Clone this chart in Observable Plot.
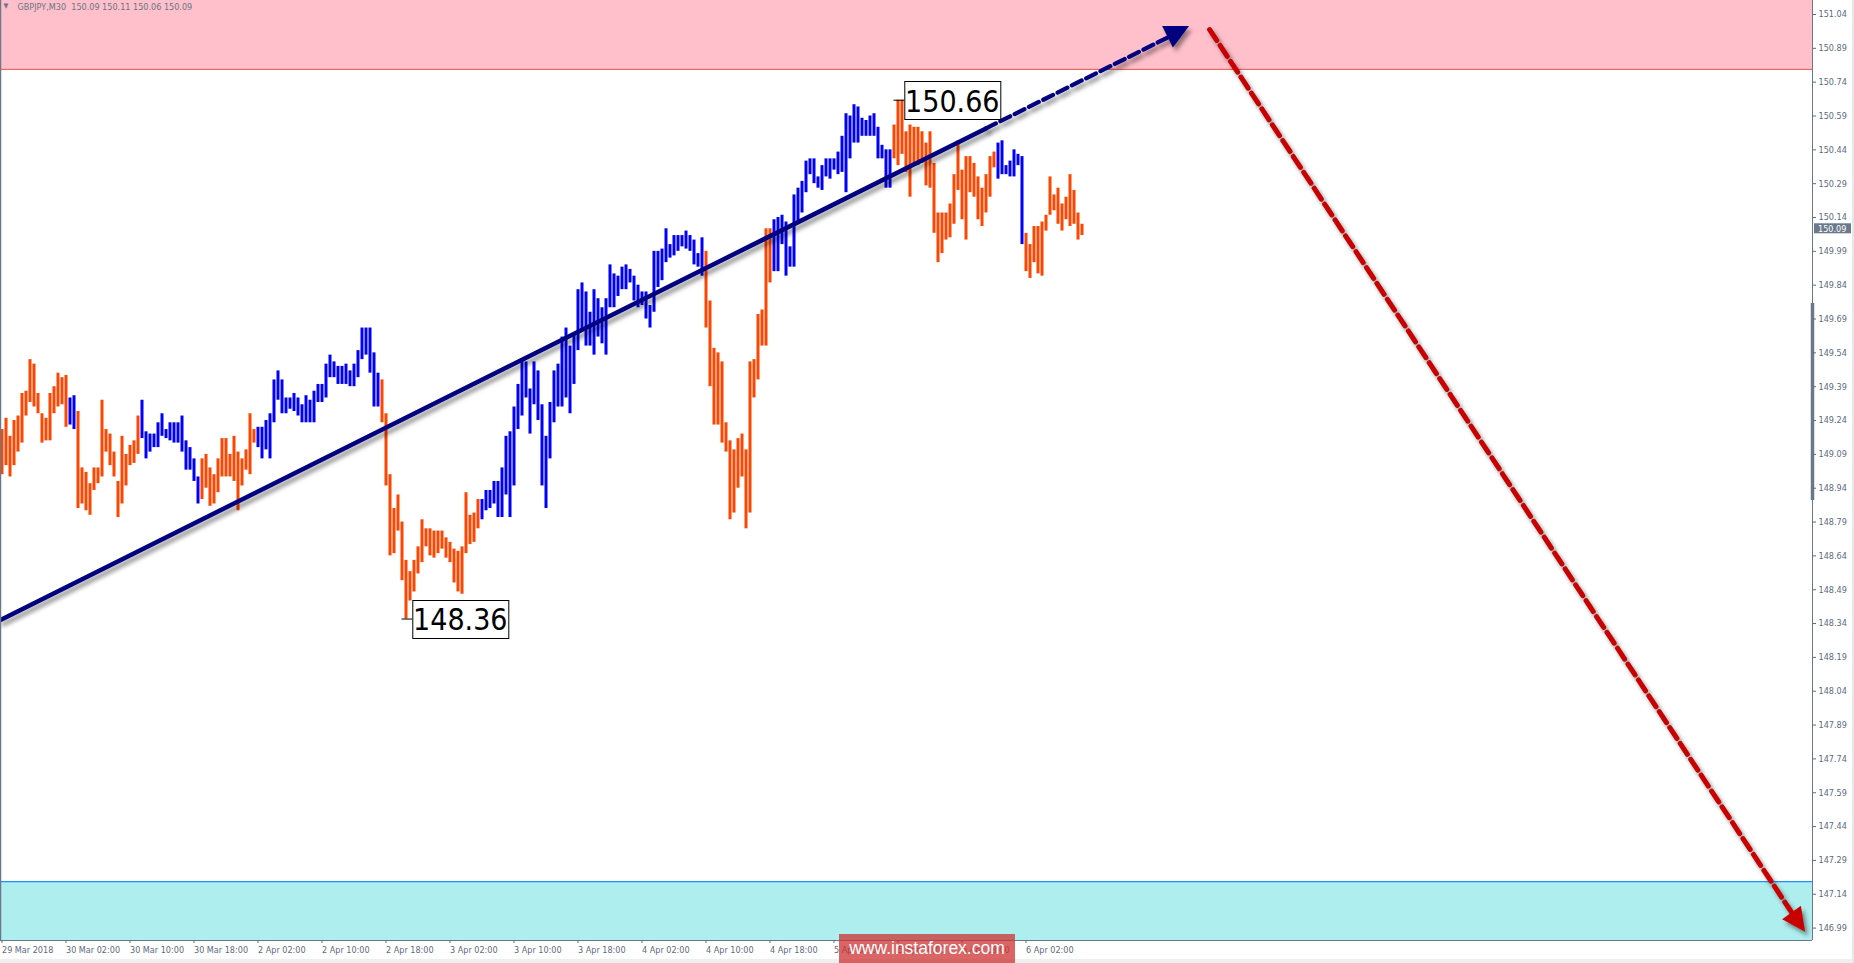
<!DOCTYPE html>
<html><head><meta charset="utf-8">
<script src="https://cdn.jsdelivr.net/npm/d3@7"></script>
<script src="https://cdn.jsdelivr.net/npm/@observablehq/plot@0.6"></script>
<style>
html,body{margin:0;padding:0;background:#fff;overflow:hidden}
#chart{position:relative;width:1854px;height:963px}
#wm{position:absolute;left:839px;top:934px;width:176px;height:29px;background:rgba(205,50,50,0.75);color:#fff;
font:17.5px "Liberation Sans",Arial,sans-serif;line-height:29px;text-align:center;z-index:2}
#bstrip{position:absolute;left:0;top:959px;width:1854px;height:4px;background:#efefef;z-index:1}
#rstrip{position:absolute;left:1852px;top:0;width:2px;height:963px;background:#e8e8e8;z-index:1}
</style></head><body><div id="chart"><div id="bstrip"></div><div id="rstrip"></div><div id="wm">www.instaforex.com</div></div>
<script>
// ---- data ----
const symbol = "GBPJPY,M30";
const headerOHLC = [150.09, 150.11, 150.06, 150.09];
const lastPrice = 150.09;

const highs = [
149.20,149.25,149.17,149.24,149.26,149.36,149.37,149.51,149.49,149.36,
149.27,149.25,149.36,149.39,149.45,149.43,149.44,149.34,149.35,149.28,
149.03,149.01,148.96,149.03,149.03,149.33,149.20,149.18,149.10,148.97,
149.17,149.09,149.13,149.15,149.26,149.33,149.19,149.18,149.18,149.23,
149.27,149.20,149.23,149.23,149.23,149.26,149.15,149.12,149.07,148.99,
149.07,149.09,149.03,149.00,149.07,149.16,149.16,149.09,149.17,149.10,
149.07,149.11,149.27,149.20,149.21,149.21,149.24,149.27,149.42,149.46,
149.42,149.34,149.34,149.36,149.34,149.31,149.35,149.33,149.37,149.40,
149.40,149.49,149.53,149.50,149.48,149.48,149.49,149.46,149.49,149.55,
149.65,149.65,149.65,149.54,149.45,149.42,149.27,149.00,148.85,148.91,
148.79,148.62,148.57,148.62,148.68,148.80,148.76,148.76,148.75,148.75,
148.75,148.72,148.70,148.67,148.66,148.68,148.92,148.82,148.83,148.89,
148.89,148.93,148.93,148.97,148.97,149.03,149.17,149.19,149.30,149.40,
149.51,149.50,149.38,149.50,149.46,149.31,149.17,149.32,149.46,149.49,
149.61,149.65,149.57,149.62,149.82,149.85,149.81,149.72,149.82,149.78,
149.74,149.78,149.93,149.89,149.88,149.92,149.93,149.91,149.88,149.84,
149.81,149.81,149.75,149.99,149.99,150.00,150.09,150.02,150.06,150.06,
150.06,150.08,150.06,150.04,149.98,150.05,149.99,149.77,149.56,149.54,
149.50,149.23,149.15,149.11,149.16,149.18,149.11,149.50,149.51,149.71,
149.73,150.09,150.09,150.13,150.14,150.15,150.12,150.01,150.24,150.27,
150.30,150.39,150.40,150.40,150.32,150.37,150.40,150.40,150.40,150.43,
150.50,150.60,150.59,150.64,150.63,150.58,150.57,150.59,150.60,150.54,
150.46,150.44,150.44,150.55,150.66,150.66,150.52,150.55,150.54,150.54,
150.52,150.47,150.52,150.38,150.16,150.16,150.16,150.20,150.33,150.48,
150.35,150.41,150.41,150.38,150.32,150.27,150.33,150.41,150.43,150.47,
150.48,150.37,150.39,150.44,150.42,150.41,150.07,150.02,150.10,150.10,
150.12,150.15,150.32,150.24,150.27,150.20,150.23,150.33,150.26,150.16,150.11];

const lows = [
149.00,149.04,148.99,149.04,149.10,149.14,149.26,149.32,149.30,149.27,
149.14,149.15,149.15,149.27,149.30,149.31,149.21,149.22,149.20,148.85,
148.87,148.84,148.82,148.93,148.96,148.99,149.10,149.04,148.99,148.81,
148.87,148.95,149.04,149.05,149.09,149.16,149.07,149.10,149.12,149.12,
149.17,149.16,149.15,149.14,149.14,149.10,149.02,149.02,148.97,148.87,
148.89,148.94,148.86,148.87,148.92,148.99,148.99,148.99,148.97,148.84,
148.95,149.02,149.00,149.14,149.12,149.07,149.11,149.07,149.23,149.33,
149.27,149.27,149.29,149.28,149.26,149.23,149.23,149.23,149.23,149.32,
149.32,149.34,149.43,149.43,149.40,149.40,149.40,149.39,149.39,149.43,
149.51,149.53,149.45,149.30,149.30,149.23,148.95,148.64,148.65,148.75,
148.53,148.36,148.44,148.48,148.56,148.61,148.68,148.64,148.63,148.65,
148.67,148.63,148.61,148.52,148.48,148.47,148.65,148.69,148.70,148.76,
148.80,148.84,148.85,148.87,148.81,148.81,148.91,148.81,148.95,149.20,
149.26,149.34,149.18,149.31,149.24,148.95,148.85,149.07,149.23,149.30,
149.30,149.34,149.27,149.40,149.55,149.64,149.57,149.57,149.53,149.61,
149.58,149.53,149.74,149.74,149.79,149.82,149.82,149.85,149.77,149.74,
149.75,149.69,149.65,149.72,149.83,149.86,149.94,149.96,149.97,149.99,
150.01,150.00,149.99,149.93,149.92,149.88,149.65,149.39,149.22,149.22,
149.14,149.10,148.80,148.83,148.94,148.99,148.76,148.83,149.34,149.42,
149.57,149.57,149.85,149.90,149.90,150.02,149.88,149.92,149.92,150.11,
150.16,150.25,150.33,150.29,150.27,150.26,150.32,150.31,150.35,150.33,
150.34,150.25,150.40,150.47,150.47,150.50,150.50,150.50,150.50,150.40,
150.40,150.27,150.27,150.40,150.37,150.42,150.34,150.23,150.37,150.37,
150.38,150.28,150.27,150.07,149.94,149.98,150.04,150.05,150.11,150.26,
150.13,150.04,150.25,150.23,150.13,150.10,150.16,150.23,150.36,150.31,
150.33,150.33,150.32,150.32,150.37,150.02,149.90,149.87,149.94,149.89,
149.88,150.08,150.15,150.17,150.11,150.08,150.13,150.10,150.11,150.04,150.06];

// wave segments (first bar index of each swing, and its direction)
const swingStarts = [0,17,19,35,50,64,95,120,176,193,223,249,256];
const swingDirs = ["down","up","down","up","down","up","down","up","down","up","down","up","down"];

// time axis: one label every 16 bars (8 hours of M30)
const barsPerLabel = 16;
const dateLabels = ["29 Mar 2018","30 Mar 02:00","30 Mar 10:00","30 Mar 18:00","2 Apr 02:00","2 Apr 10:00",
  "2 Apr 18:00","3 Apr 02:00","3 Apr 10:00","3 Apr 18:00","4 Apr 02:00","4 Apr 10:00","4 Apr 18:00",
  "5 Apr 02:00","5 Apr 10:00","5 Apr 18:00","6 Apr 02:00"];
const priceTicks = [146.99,147.14,147.29,147.44,147.59,147.74,147.89,148.04,148.19,148.34,148.49,148.64,
  148.79,148.94,149.09,149.24,149.39,149.54,149.69,149.84,149.99,150.14,150.29,150.44,150.59,150.74,150.89,151.04];

const priceDomain = [146.935, 151.102];
const barDomain = [-0.375, 452.625];
const targetZone = [150.797, 151.102];
const supportZone = [146.935, 147.196];
const scrollSpan = [148.886, 149.759];

const extremes = [{i: 224, price: 150.66}, {i: 101, price: 148.36}];

// wave annotations: [bar index, price]
const trendSolid = [[-0.375, 148.356], [246, 150.535]];
const trendDashed = [[246, 150.535], [291.5, 150.939]];
const trendTip = [296.9, 150.987];
const forecastLine = [[301.9, 150.973], [447.5, 147.057]];
const forecastTip = [450.9, 146.972];

// ---- build ----
const bars = highs.map((h, i) => ({i, high: h, low: lows[i], dir: swingDirs[d3.bisectRight(swingStarts, i) - 1]}));
const dateTicks = dateLabels.map((_, k) => k * barsPerLabel);
const dateMap = new Map(dateTicks.map((t, k) => [t, dateLabels[k]]));
const shadow = "drop-shadow(3px 4px 2px rgba(0,0,0,0.42))";
const axisColor = "#6b7889";
const font = "'DejaVu Sans Condensed','DejaVu Sans',sans-serif";

function arrowHead(base, tip, color, width) {
  return (index, scales) => {
    const bx = scales.x(base[0]), by = scales.y(base[1]);
    const tx = scales.x(tip[0]), ty = scales.y(tip[1]);
    const dx = tx - bx, dy = ty - by, L = Math.hypot(dx, dy);
    const px = -dy / L * width / 2, py = dx / L * width / 2;
    const g = d3.create("svg:g").attr("style", "filter:" + shadow);
    g.append("path").attr("d", `M${tx},${ty}L${bx + px},${by + py}L${bx - px},${by - py}Z`).attr("fill", color);
    return g.node();
  };
}

function labelBoxes(index, scales) {
  const g = d3.create("svg:g");
  for (const e of extremes) {
    const x = scales.x(e.i + 1.7), y = scales.y(e.price);
    g.append("rect").attr("x", x + 0.5).attr("y", Math.round(y - 19) + 0.5).attr("width", 96).attr("height", 38)
      .attr("fill", "white").attr("stroke", "black").attr("stroke-width", 1);
    g.append("text").attr("x", x + 48).attr("y", y + 1).attr("dy", "0.36em").attr("text-anchor", "middle")
      .attr("font-family", "'DejaVu Sans Condensed','Liberation Sans',sans-serif").attr("font-size", 30)
      .attr("fill", "black").text(e.price.toFixed(2));
  }
  return g.node();
}

function lastPriceBox(index, scales, values, dims) {
  const y = scales.y(lastPrice);
  const x = dims.width - dims.marginRight + 2;
  const g = d3.create("svg:g");
  g.append("rect").attr("x", x).attr("y", y - 5).attr("width", 37).attr("height", 10).attr("fill", "#6b7a8b");
  g.append("text").attr("x", x + 4).attr("y", y).attr("dy", "0.36em").attr("fill", "white").attr("text-anchor", "start")
    .attr("font-size", 9).attr("font-family", font).text(lastPrice.toFixed(2));
  return g.node();
}

const chart = Plot.plot({
  width: 1854, height: 963,
  marginLeft: 0, marginRight: 42, marginTop: 0, marginBottom: 23,
  x: {domain: barDomain, label: null},
  y: {domain: priceDomain, label: null},
  color: {domain: ["up", "down"], range: ["#0000ff", "#ff4500"]},
  style: {background: "white", fontFamily: font, fontSize: "9px", overflow: "visible"},
  marks: [
    Plot.rect([targetZone], {y1: d => d[0], y2: d => d[1], fill: "#ffc0cb"}),
    Plot.ruleY([targetZone[0]], {stroke: "#e8423c", strokeWidth: 1}),
    Plot.rect([supportZone], {y1: d => d[0], y2: d => d[1], fill: "#afeeee"}),
    Plot.ruleY([supportZone[1]], {stroke: "#1e90ff", strokeWidth: 1.3}),
    Plot.ruleX(bars, {x: "i", y1: "low", y2: "high", stroke: "dir", strokeWidth: 3}),
    Plot.text([`${symbol}  ${headerOHLC.map(d => d.toFixed(2)).join(" ")}`], {frameAnchor: "top-left", dx: 17, dy: 3, lineAnchor: "top", textAnchor: "start", fill: "#697684", fontSize: 9}),
    Plot.text(["\u25BC"], {frameAnchor: "top-left", dx: 3, dy: 3, lineAnchor: "top", textAnchor: "start", fill: "#697684", fontSize: 7}),
    Plot.line(trendSolid, {x: d => d[0], y: d => d[1], stroke: "#000080", strokeWidth: 4.5}),
    Plot.line(trendDashed, {x: d => d[0], y: d => d[1], stroke: "#000080", strokeWidth: 4.2, strokeDasharray: "11,5"}),
    arrowHead(trendDashed[1], trendTip, "#000080", 24),
    Plot.line(forecastLine, {x: d => d[0], y: d => d[1], stroke: "#c80000", strokeWidth: 5, strokeDasharray: "13,6"}),
    arrowHead(forecastLine[1], forecastTip, "#c80000", 23),
    Plot.ruleY(extremes, {y: "price", x1: d => d.i - 1, x2: d => d.i + 1.7, stroke: "black", strokeWidth: 1}),
    labelBoxes,
    Plot.ruleX([barDomain[0]], {stroke: axisColor, strokeWidth: 1.5}),
    Plot.ruleX([barDomain[1]], {stroke: axisColor, strokeWidth: 1}),
    Plot.ruleX([barDomain[1]], {y1: scrollSpan[0], y2: scrollSpan[1], stroke: axisColor, strokeWidth: 3.5}),
    Plot.ruleY([priceDomain[0]], {stroke: axisColor, strokeWidth: 1}),
    Plot.axisY(priceTicks, {anchor: "right", label: null, tickSize: 3, tickPadding: 3, tickFormat: d => d.toFixed(2), color: "#5d6a7c", fontSize: 9}),
    Plot.axisX(dateTicks, {anchor: "bottom", label: null, tickSize: 3, tickPadding: 3, tickFormat: d => dateMap.get(d), textAnchor: "start", dx: 0, color: "#5d6a7c", fontSize: 9}),
    lastPriceBox
  ]
});
d3.select(chart).selectAll('g[stroke="#000080"], g[stroke="#c80000"]').attr("style", "filter:" + shadow);
const host = document.getElementById("chart");
host.insertBefore(chart, host.firstChild);
chart.style.position = "absolute"; chart.style.left = "0"; chart.style.top = "0";
</script>
</body></html>
